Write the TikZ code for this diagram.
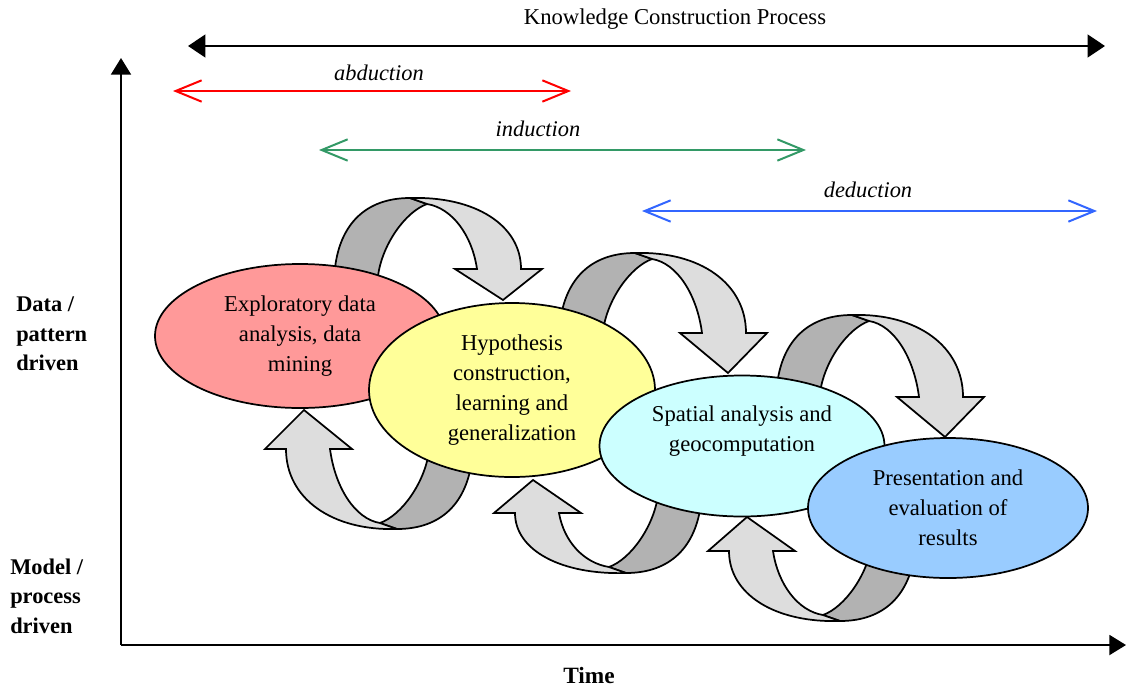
\documentclass[tikz,border=0pt]{standalone}
\usepackage{fontspec}
\setmainfont{Liberation Serif}
\usetikzlibrary{shapes.geometric,arrows.meta}

\definecolor{stageRed}{HTML}{FF9999}
\definecolor{stageYellow}{HTML}{FFFF99}
\definecolor{stageCyan}{HTML}{CCFFFF}
\definecolor{stageBlue}{HTML}{99CCFF}
\definecolor{backGray}{HTML}{B2B2B2}
\definecolor{frontGray}{HTML}{DDDDDD}
\definecolor{abdRed}{HTML}{FF0000}
\definecolor{indGreen}{HTML}{339966}
\definecolor{dedBlue}{HTML}{3366FF}

% U-turn ribbon arrow: #1,#2 = turning point, #3 = depth of the head base,
% #4 = head length, #5 = rotation (0 = pointing down on the right, 180 = up on the left)
\newcommand{\ribbonarrow}[5]{%
  \begin{scope}[shift={(#1,#2)}, rotate=#5]
    \draw[ribbonback] (-82,96) -- (-80,70) .. controls (-75,27) and (-50,0) .. (-5,0)
      -- (12,6) .. controls (-10,14) and (-33,47) .. (-37,78) -- (-38,100) -- cycle;
    \draw[ribbonfront] (-5,0) .. controls (60,-2) and (106,{0.38*#3}) .. (106,#3)
      -- (127,#3) -- (88,{#3+#4}) -- (40,#3) -- (62,#3)
      .. controls (57,{0.52*#3}) and (37,10) .. (12,6) -- cycle;
  \end{scope}}

\tikzset{
  basefont/.style={font=\fontsize{17}{22.5}\selectfont},
  txt/.style={basefont, align=center, inner sep=0pt},
  spanlabel/.style={txt, font=\fontsize{16.8}{20}\selectfont\itshape},
  stage/.style={ellipse, draw=black, line width=1.3pt, inner sep=0pt, align=center, basefont},
  ribbonback/.style={fill=backGray, draw=black, line width=1.3pt, line join=round},
  ribbonfront/.style={fill=frontGray, draw=black, line width=1.3pt, line join=miter},
  barbs/.style={line width=1.5pt, {Straight Barb[length=19.5pt,width=16pt]}-{Straight Barb[length=19.5pt,width=16pt]}},
  kcparrow/.style={line width=1.6pt, {Triangle[length=13pt,width=17pt]}-{Triangle[length=13pt,width=17pt]}},
  axis/.style={line width=1.5pt, -{Triangle[length=12.5pt,width=15pt]}},
  sidelabel/.style={font=\fontsize{16.8}{22}\selectfont\bfseries, align=left, inner sep=0pt, anchor=west},
}

\begin{document}
\begin{tikzpicture}[x=0.75pt, y=-0.75pt]
\useasboundingbox (0,0) rectangle (1127,686);

% axes
\coordinate (origin) at (121,645);
\coordinate (ytop) at (121,58);
\coordinate (xend) at (1126,645);
\draw[axis] (origin) -- (ytop);
\draw[axis] (origin) -- (xend);
\node[txt, font=\fontsize{17.5}{20}\selectfont\bfseries] (time) at (589,675) {Time};
\node[sidelabel] (datadriven) at (16,334) {Data /\\pattern\\driven};
\node[sidelabel] (modeldriven) at (10,596) {Model /\\process\\driven};

% overall process and reasoning spans
\node[txt] (kcp) at (675,19) {Knowledge Construction Process};
\coordinate (kcpL) at (188,46);
\coordinate (kcpR) at (1105,46);
\draw[kcparrow] (kcpL) -- (kcpR);

\node[spanlabel] (abd) at (379,73) {abduction};
\coordinate (abdL) at (173,91);
\coordinate (abdR) at (571,91);
\draw[barbs, abdRed] (abdL) -- (abdR);

\node[spanlabel] (ind) at (538,129) {induction};
\coordinate (indL) at (319,150);
\coordinate (indR) at (806,150);
\draw[barbs, indGreen] (indL) -- (indR);

\node[spanlabel] (ded) at (868,190) {deduction};
\coordinate (dedL) at (642,211);
\coordinate (dedR) at (1097,211);
\draw[barbs, dedBlue] (dedL) -- (dedR);

% ribbon arrows between the stages (drawn first, the stages cover their feet)
\ribbonarrow{415}{198}{71}{31}{0}
\ribbonarrow{640}{253}{80}{40}{0}
\ribbonarrow{857}{315}{82}{40}{0}
\ribbonarrow{392}{529}{80}{39}{180}
\ribbonarrow{621}{573}{60}{33}{180}
\ribbonarrow{835}{621}{70}{34}{180}

% stages
\node[stage, fill=stageRed, minimum width=217.5pt, minimum height=108pt] (eda) at (300,336)
  {Exploratory data\\analysis, data\\mining};
\node[stage, fill=stageYellow, minimum width=214.5pt, minimum height=130.5pt] (hyp) at (512,390)
  {Hypothesis\\construction,\\learning and\\generalization};
\node[stage, fill=stageCyan, minimum width=213.75pt, minimum height=105.75pt] (spa) at (742,446) {};
\node[txt] (spatext) at (742,431) {Spatial analysis and\\geocomputation};
\node[stage, fill=stageBlue, minimum width=210pt, minimum height=105pt] (pres) at (948,508)
  {Presentation and\\evaluation of\\results};
\end{tikzpicture}
\end{document}
